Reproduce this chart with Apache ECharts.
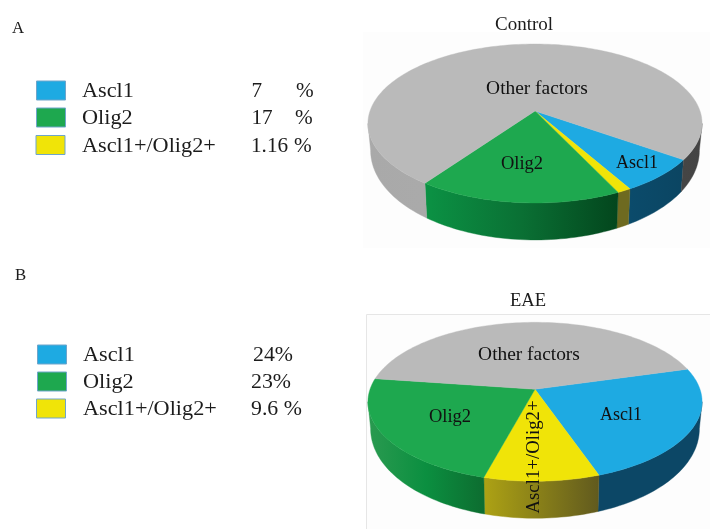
<!DOCTYPE html>
<html>
<head>
<meta charset="utf-8">
<style>html,body{margin:0;padding:0;background:#fff}#chart{width:710px;height:529px}</style>
<script src="https://cdn.jsdelivr.net/npm/echarts@6/dist/echarts.min.js"></script>
</head>
<body>
<div id="chart"></div>
<script>
// Marker populations, in clockwise order on each disc
const categories = ['Ascl1', 'Ascl1+/Olig2+', 'Olig2', 'Other factors'];
const controlShares = [7, 1.16, 17, 74.84];
const eaeShares = [24, 9.6, 23, 43.4];

// Legend rows
const legendNames = ['Ascl1', 'Olig2', 'Ascl1+/Olig2+'];
const controlLegendValues = ['7', '17', '1.16'];
const eaeLegendValues = ['24%', '23%', '9.6 %'];

const FONT = '"Liberation Serif","Times New Roman",serif';
const TEXT = '#1c1c1c';

const topColors = {
  'Ascl1': '#1eaae2',
  'Olig2': '#1ea84f',
  'Ascl1+/Olig2+': '#f0e408',
  'Other factors': '#bababa'
};

// Foreshortened disc: rim angle in degrees, 0 = right, 90 = nearest the viewer
const DISC = {a: 165, b: 77.5, k: 0.157, shrink: 0.984};
const rad = d => d * Math.PI / 180;
function rim(cx, cy, deg) {
  const c = Math.cos(rad(deg)), s = Math.sin(rad(deg)), w = 1 - DISC.k * s;
  return [cx + DISC.a * c / w, cy + DISC.b * s / w];
}
function rimBottom(cx, cy, deg) {
  const p = rim(cx, cy, deg), s = Math.sin(rad(deg));
  return [cx + (p[0] - cx) * DISC.shrink, p[1] + 25 + 12 * s];
}
function arc(fn, cx, cy, from, to) {
  const pts = [], n = Math.max(2, Math.ceil(Math.abs(to - from) / 1.5));
  for (let i = 0; i <= n; i++) pts.push(fn(cx, cy, from + (to - from) * i / n));
  return pts;
}
function sliceRange(shares, startDeg, index) {
  let from = startDeg;
  for (let i = 0; i < index; i++) from += shares[i] * 3.6;
  return [from, from + shares[index] * 3.6];
}

const WALL_FROM = 9, WALL_TO = 171;

function wallFill(stops, x0, x1) {
  if (stops.length === 1) return stops[0];
  return new echarts.graphic.LinearGradient(x0, 0, x1, 0,
    stops.map((c, i) => ({offset: i / (stops.length - 1), color: c})), true);
}

// Side wall of the disc, only the part of each slice that faces the viewer
function wallSeries(panel) {
  return {
    type: 'custom', coordinateSystem: 'none', silent: true, z: 2,
    data: panel.shares.map(v => [v]),
    renderItem(params) {
      const i = params.dataIndex, name = categories[i];
      const range = sliceRange(panel.shares, panel.start, i);
      const parts = [];
      for (const shift of [0, 360, -360]) {
        const from = Math.max(range[0] + shift, WALL_FROM);
        const to = Math.min(range[1] + shift, WALL_TO);
        if (to <= from) continue;
        const top = arc(rim, panel.cx, panel.cy, from, to);
        const bottom = arc(rimBottom, panel.cx, panel.cy, to, from);
        const stops = panel.wall[name];
        const fill = wallFill(stops, stops.global ? panel.cx - 167 : top[0][0],
                              stops.global ? panel.cx + 167 : top[top.length - 1][0]);
        parts.push({
          type: 'polygon',
          shape: {points: top.concat(bottom)},
          style: {fill, stroke: fill, lineWidth: 0.4}
        });
      }
      return {type: 'group', children: parts};
    }
  };
}

// Upper face of the disc with the slice labels
function faceSeries(panel) {
  return {
    type: 'custom', coordinateSystem: 'none', silent: true, z: 3,
    data: panel.shares.map(v => [v]),
    renderItem(params) {
      const i = params.dataIndex, name = categories[i];
      const range = sliceRange(panel.shares, panel.start, i);
      const pts = [[panel.cx, panel.cy]].concat(arc(rim, panel.cx, panel.cy, range[0], range[1]));
      const children = [{
        type: 'polygon', shape: {points: pts},
        style: {fill: topColors[name], stroke: topColors[name], lineWidth: 0.4}
      }];
      const lab = panel.labels[name];
      if (lab) {
        children.push({
          type: 'text', x: lab.x, y: lab.y, rotation: lab.rotate || 0, z2: 10,
          style: {text: name, fill: '#111', font: lab.size + 'px ' + FONT,
                  align: 'center', verticalAlign: 'middle'}
        });
      }
      return {type: 'group', children};
    }
  };
}

const controlPanel = {
  shares: controlShares, start: 35, cx: 535, cy: 111,
  wall: {
    'Ascl1': ['#0b4562', '#0b4b6b'],
    'Ascl1+/Olig2+': ['#6e6a20'],
    'Olig2': ['#03461d', '#0a7034', '#0b9244'],
    'Other factors': Object.assign(['#a9a9a9', '#aaaaaa', '#8f8f8f', '#8f8f8f', '#4a4a4a', '#474747', '#444444'], {global: true})
  },
  labels: {
    'Other factors': {x: 537, y: 88.5, size: 19.4},
    'Olig2': {x: 522, y: 164.5, size: 18.5},
    'Ascl1': {x: 637, y: 163.5, size: 18}
  }
};

const eaePanel = {
  shares: eaeShares, start: -15.7, cx: 535, cy: 389.3,
  wall: {
    'Ascl1': ['#0c4766'],
    'Ascl1+/Olig2+': ['#615a1e', '#ada214'],
    'Olig2': ['#0d6d30', '#0b8f40', '#2a9a50'],
    'Other factors': ['#8f8f8f']
  },
  labels: {
    'Other factors': {x: 529, y: 354.5, size: 19.4},
    'Olig2': {x: 450, y: 417.5, size: 18.5},
    'Ascl1': {x: 621, y: 415.5, size: 18},
    'Ascl1+/Olig2+': {x: 534.5, y: 457, size: 18.8, rotate: Math.PI / 2}
  }
};

function label(text, x, y, size, align, stretch) {
  return {
    type: 'text', x, y: y + 1.5, z: 5, scaleX: stretch || 1,
    style: {text, fill: TEXT, font: size + 'px ' + FONT, align: align || 'left', verticalAlign: 'middle'}
  };
}

function legendBlock(rows, nameX) {
  const out = [];
  legendNames.forEach((name, i) => {
    out.push({
      type: 'rect', z: 5,
      shape: {x: rows[i].sx, y: rows[i].y - 9.5, width: 29, height: 19},
      style: {fill: topColors[name], stroke: '#6fa5cb', lineWidth: 1}
    });
    out.push(label(name, nameX, rows[i].y, 20.6, 'left', 1.08));
  });
  return out;
}

const rowsA = [{y: 90.5, sx: 36.5, vx: 251.5, px: 296}, {y: 117.5, sx: 36.5, vx: 251.5, px: 295}, {y: 145, sx: 36, vx: 251, px: 294}];
const rowsB = [{y: 354.5, sx: 37.5, vx: 253}, {y: 381.5, sx: 37.5, vx: 251}, {y: 408.5, sx: 36.5, vx: 251}];

const graphicItems = [
  {type: 'rect', z: 0, shape: {x: 363, y: 32, width: 347, height: 216}, style: {fill: '#fdfdfd'}},
  {type: 'rect', z: 0, shape: {x: 366.5, y: 314.5, width: 344, height: 216},
   style: {fill: '#fdfdfd', stroke: '#e6e6e6', lineWidth: 1}},
  label('A', 12, 27, 16.8),
  label('B', 15, 274, 16.8),
  label('Control', 524, 24, 19, 'center'),
  label('EAE', 528, 300, 18.6, 'center')
].concat(legendBlock(rowsA, 82), legendBlock(rowsB, 83));

// Control values keep the percent sign in its own column
controlLegendValues.forEach((v, i) => {
  graphicItems.push(label(v, rowsA[i].vx, rowsA[i].y, 20.6, 'left', 1.03));
  graphicItems.push(label('%', rowsA[i].px, rowsA[i].y, 20.6, 'left', 1.03));
});
eaeLegendValues.forEach((v, i) => {
  graphicItems.push(label(v, rowsB[i].vx, rowsB[i].y, 20.6, 'left', 1.06));
});

const chart = echarts.init(document.getElementById('chart'), null, {renderer: 'canvas'});
chart.setOption({
  animation: false,
  backgroundColor: '#ffffff',
  graphic: {elements: graphicItems},
  series: [wallSeries(controlPanel), faceSeries(controlPanel), wallSeries(eaePanel), faceSeries(eaePanel)]
});
</script>
</body>
</html>
